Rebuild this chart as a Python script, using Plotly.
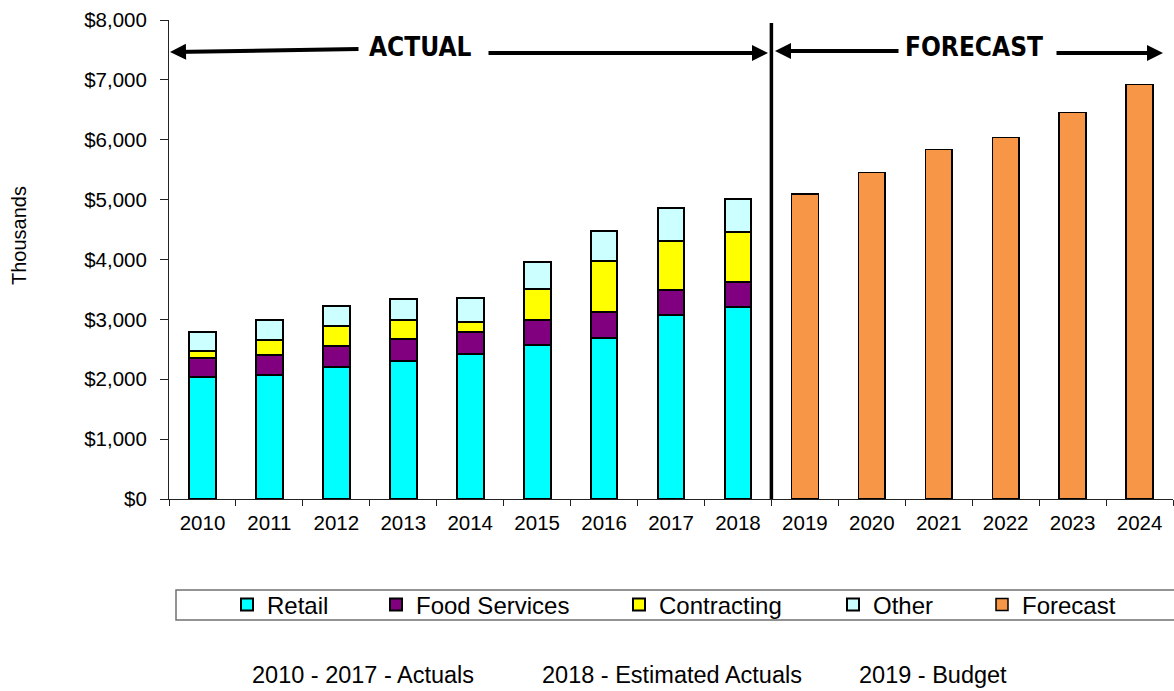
import plotly.graph_objects as go

years = [str(y) for y in range(2010, 2025)]
retail = [2033, 2067, 2206, 2301, 2418, 2580, 2697, 3074, 3203] + [None] * 6
food = [323, 339, 351, 367, 372, 411, 422, 413, 413] + [None] * 6
contracting = [123, 246, 334, 329, 162, 518, 864, 824, 845] + [None] * 6
other = [318, 334, 334, 351, 406, 441, 495, 551, 542] + [None] * 6
forecast = [None] * 9 + [5095, 5454, 5834, 6040, 6456, 6925]

W, H = 1174, 691
L, R, T, B = 169, 1, 20, 192
PW, PH = W - L - R, H - T - B
FONT = "Liberation Sans, Arial, sans-serif"
HEAD = "DejaVu Sans Condensed, Liberation Sans Narrow, DejaVu Sans, sans-serif"


def px(x):
    return (x - L) / PW


def py(y):
    return (T + PH - y) / PH


series = [
    ("Retail", retail, "#00FFFF", 2, 267),
    ("Food Services", food, "#800080", 2, 416),
    ("Contracting", contracting, "#FFFF00", 2, 659),
    ("Other", other, "#CCFFFF", 2, 873),
    ("Forecast", forecast, "#F79646", 1.5, 1022),
]

fig = go.Figure()
legends = {}
for i, (name, vals, col, lw, tx) in enumerate(series):
    lid = "legend" if i == 0 else f"legend{i + 1}"
    fig.add_trace(go.Bar(
        x=years, y=vals, name=name, legend=lid,
        marker=dict(color=col, line=dict(color="black", width=lw)),
    ))
    legends[lid] = dict(
        xref="container", yref="container",
        x=(tx - 40) / W, y=1 - 605 / H, xanchor="left", yanchor="middle",
        orientation="h", bgcolor="rgba(0,0,0,0)", borderwidth=0,
        font=dict(family=FONT, size=24, color="black"),
    )


def note(text, x, y, anchor="center", size=24, family=FONT, **kw):
    return dict(text=text, xref="paper", yref="paper", x=px(x), y=py(y),
                xanchor=anchor, yanchor="middle", showarrow=False,
                font=dict(family=family, size=size, color="black", **kw))


annotations = [
    note("ACTUAL", 420.5, 47, size=26, family=HEAD, weight="bold"),
    note("FORECAST", 973.5, 47, size=26, family=HEAD, weight="bold"),
    note("2010 - 2017 - Actuals", 250, 675, anchor="left", size=23.5),
    note("2018 - Estimated Actuals", 540, 675, anchor="left", size=23.5),
    note("2019 - Budget", 857, 675, anchor="left", size=23.5),
]
th = note("Thousands", 19, 236, size=20)
th["textangle"] = -90
annotations.append(th)

arrows = [
    ((170, 52), (360, 49)),
    ((768, 53), (487, 53)),
    ((775, 51), (900, 51)),
    ((1163, 53), (1055, 53)),
]
for (hx, hy), (tx, ty) in arrows:
    annotations.append(dict(
        text="", xref="paper", yref="paper", x=px(hx), y=py(hy),
        ax=tx - hx, ay=ty - hy, axref="pixel", ayref="pixel",
        showarrow=True, arrowhead=2, arrowsize=0.8, arrowwidth=4,
        arrowcolor="black", standoff=0,
    ))

shapes = [
    dict(type="line", xref="x", yref="y", x0=8.5, x1=8.5, y0=0,
         y1=(T + PH - 23) / PH * 8000, line=dict(color="black", width=3.5)),
    dict(type="rect", xref="paper", yref="paper", x0=px(176), x1=px(1176),
         y0=py(620), y1=py(590), line=dict(color="#707070", width=1.5)),
]

fig.update_layout(
    width=W, height=H, barmode="stack", bargap=0.6,
    margin=dict(l=L, r=R, t=T, b=B, pad=0),
    paper_bgcolor="white", plot_bgcolor="white",
    font=dict(family=FONT, size=20, color="black"),
    annotations=annotations, shapes=shapes,
    showlegend=True,
    **legends,
)
fig.update_xaxes(
    type="category", showline=True, linecolor="#222", linewidth=1,
    ticks="outside", tickson="boundaries", ticklen=6, tickcolor="#222",
    showgrid=False, tickfont=dict(family=FONT, size=20.5, color="black"),
    range=[-0.5, 14.5], ticklabelstandoff=5,
)
fig.update_yaxes(
    range=[0, 8000], dtick=1000, tickformat="$,.0f", showline=True,
    linecolor="#222", linewidth=1, ticks="outside", ticklen=8, tickcolor="#222",
    showgrid=False, zeroline=False, ticklabelstandoff=9,
    tickfont=dict(family=FONT, size=20.5, color="black"),
)

fig.write_html("out.html")
